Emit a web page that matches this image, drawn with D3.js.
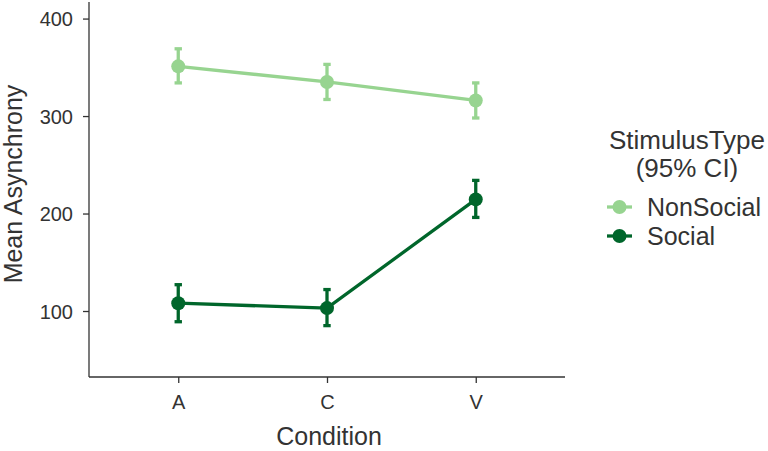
<!DOCTYPE html>
<html><head><meta charset="utf-8">
<script src="https://cdn.jsdelivr.net/npm/d3@7"></script>
<style>body{margin:0;background:#fff;} text{font-family:"Liberation Sans",Arial,sans-serif;fill:#333;}</style>
</head><body><svg id="c" width="768" height="451"></svg>
<script>
const conditions = ["A","C","V"];
const seriesNames = ["NonSocial","Social"];
const nonSocialMean = [351, 335, 316];
const nonSocialLow  = [334, 317, 298];
const nonSocialHigh = [369, 353, 334];
const socialMean = [108, 103, 214.5];
const socialLow  = [89, 85, 196];
const socialHigh = [127, 122, 234];
const yTicks = [100, 200, 300, 400];
const colors = ["#97d490", "#00662b"];

(function () {
const svg = d3.select("#c");
const mL = 89, mR = 565, mT = 2, mB = 377;
const x = d3.scalePoint().domain(conditions).range([mL, mR]).padding(0.6);
const y = d3.scaleLinear().domain([32.3, 417]).range([mB, mT]);

const ax = svg.append("g").attr("transform", `translate(0,${mB})`)
  .call(d3.axisBottom(x).tickSize(6).tickPadding(4));
const ay = svg.append("g").attr("transform", `translate(${mL},0)`)
  .call(d3.axisLeft(y).tickValues(yTicks).tickSize(6).tickPadding(10));
[ax, ay].forEach(g => {
  g.select(".domain").attr("stroke", "#333").attr("stroke-width", 1.3);
  g.selectAll(".tick line").attr("stroke", "#333").attr("stroke-width", 1.3);
  g.selectAll(".tick text").attr("font-size", 20).attr("fill", "#333")
   .style("font-family", '"Liberation Sans",Arial,sans-serif');
});
ax.selectAll(".tick text").attr("dy", null).attr("y", 32);
ay.selectAll(".tick text").attr("dy", "0.36em");
ax.select(".domain").attr("d", `M${mL},0H${mR}`);
ay.select(".domain").attr("d", `M0,${mB}V${mT}`);

svg.append("text").attr("x", 329).attr("y", 445)
  .attr("text-anchor", "middle").attr("font-size", 25).text("Condition");
svg.append("text").attr("transform", `translate(21.5,184) rotate(-90)`)
  .attr("text-anchor", "middle").attr("font-size", 25).text("Mean Asynchrony");

const series = [
  {name: seriesNames[0], mean: nonSocialMean, lo: nonSocialLow, hi: nonSocialHigh, color: colors[0]},
  {name: seriesNames[1], mean: socialMean, lo: socialLow, hi: socialHigh, color: colors[1]}
];
const line = d3.line().x((d, i) => x(conditions[i])).y(d => y(d));
series.forEach(s => {
  const g = svg.append("g");
  g.append("path").attr("d", line(s.mean)).attr("fill", "none")
    .attr("stroke", s.color).attr("stroke-width", 3.3);
  conditions.forEach((c, i) => {
    const cx = x(c);
    g.append("line").attr("x1", cx).attr("x2", cx).attr("y1", y(s.lo[i])).attr("y2", y(s.hi[i]))
      .attr("stroke", s.color).attr("stroke-width", 3.3);
    [s.lo[i], s.hi[i]].forEach(v => {
      g.append("line").attr("x1", cx - 3.7).attr("x2", cx + 3.7).attr("y1", y(v)).attr("y2", y(v))
        .attr("stroke", s.color).attr("stroke-width", 3.3);
    });
    g.append("circle").attr("cx", cx).attr("cy", y(s.mean[i])).attr("r", 7).attr("fill", s.color);
  });
});

const lg = svg.append("g");
lg.append("text").attr("x", 687).attr("y", 148.5).attr("text-anchor", "middle").attr("font-size", 26).text("StimulusType");
lg.append("text").attr("x", 687).attr("y", 176.5).attr("text-anchor", "middle").attr("font-size", 26).text("(95% CI)");
series.forEach((s, i) => {
  const cy = 207 + i * 29;
  lg.append("line").attr("x1", 607).attr("x2", 632).attr("y1", cy).attr("y2", cy)
    .attr("stroke", s.color).attr("stroke-width", 3.3);
  lg.append("circle").attr("cx", 619.5).attr("cy", cy).attr("r", 7).attr("fill", s.color);
  lg.append("text").attr("x", 647).attr("y", cy + 8.5).attr("font-size", 25).text(s.name);
});
})();
</script></body></html>
